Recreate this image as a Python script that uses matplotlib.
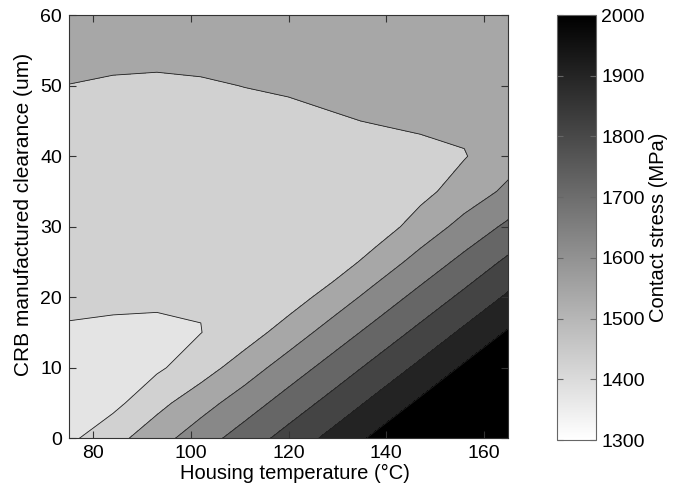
import matplotlib
matplotlib.use("Agg")
import matplotlib.pyplot as plt
import numpy as np
from matplotlib.colors import Normalize
from matplotlib.cm import ScalarMappable

plt.rcParams['font.family'] = ['Liberation Sans', 'DejaVu Sans']

# Grid of the parametric study
housing_temp = [75, 84, 93, 102, 111, 120, 129, 138, 147, 156, 165]      # degC
clearance = [0, 5, 10, 15, 20, 25, 30, 35, 40, 45, 50, 55, 60]           # um

# Contact stress (MPa), one row per clearance value
contact_stress = [
    [1380, 1465, 1560, 1655, 1746, 1838, 1929, 2021, 2112, 2204, 2295],
    [1370, 1373, 1470, 1560, 1651, 1743, 1834, 1926, 2017, 2109, 2200],
    [1372, 1375, 1385, 1455, 1550, 1648, 1739, 1831, 1922, 2014, 2105],
    [1385, 1388, 1392, 1398.5, 1452, 1545, 1644, 1735, 1827, 1919, 2010],
    [1430, 1412, 1406, 1404, 1430, 1452, 1542, 1640, 1732, 1823, 1915],
    [1450, 1440, 1432, 1425, 1420, 1430, 1445, 1540, 1637, 1728, 1820],
    [1465, 1455, 1448, 1440, 1435, 1432, 1435, 1450, 1542, 1633, 1720],
    [1475, 1468, 1462, 1455, 1450, 1446, 1445, 1448, 1472, 1545, 1620],
    [1480, 1476, 1472, 1468, 1462, 1458, 1456, 1455, 1480, 1495, 1560],
    [1487, 1483, 1477, 1468, 1460, 1468, 1491, 1505, 1512, 1518, 1545],
    [1498, 1485, 1480, 1487, 1502, 1515, 1525, 1535, 1545, 1550, 1560],
    [1540, 1535, 1532, 1538, 1545, 1552, 1560, 1565, 1570, 1575, 1580],
    [1565, 1562, 1560, 1562, 1566, 1570, 1575, 1580, 1585, 1590, 1595],
]

line_levels = [1400, 1500, 1600, 1700, 1800, 1900, 2000]
fill_levels = [1300] + line_levels + [2400]
band_grays = ['#e4e4e4', '#d1d1d1', '#a7a7a7', '#888888',
              '#666666', '#444444', '#232323', '#000000']
cbar_ticks = [1300, 1400, 1500, 1600, 1700, 1800, 1900, 2000]

T, C = np.meshgrid(housing_temp, clearance)
Z = np.array(contact_stress, dtype=float)

fig = plt.figure(figsize=(6.84, 4.93), dpi=100)
ax = fig.add_axes([0.101, 0.111, 0.642, 0.858])

ax.contourf(T, C, Z, levels=fill_levels, colors=band_grays)
ax.contour(T, C, Z, levels=line_levels, colors='#202020', linewidths=0.6)

ax.set_xlim(75, 165)
ax.set_ylim(0, 60)
ax.set_xticks([80, 100, 120, 140, 160])
ax.set_yticks([0, 10, 20, 30, 40, 50, 60])
ax.tick_params(direction='in', top=True, right=True, length=5, width=0.8,
               labelsize=14, pad=5, color='#333333')
for s in ax.spines.values():
    s.set_color('#333333')
    s.set_linewidth(0.8)
ax.set_xlabel('Housing temperature (°C)', fontsize=14.5)
ax.xaxis.set_label_coords(0.515, -0.06)
ax.set_ylabel('CRB manufactured clearance (um)', fontsize=15)
ax.yaxis.set_label_coords(-0.082, 0.528)

cax = fig.add_axes([0.814, 0.1075, 0.057, 0.862])
sm = ScalarMappable(norm=Normalize(1300, 2000), cmap='gray_r')
cb = fig.colorbar(sm, cax=cax, ticks=cbar_ticks)
cb.outline.set_edgecolor('#666666')
cb.outline.set_linewidth(0.8)
cax.tick_params(direction='in', left=True, right=True, labelleft=False,
                labelright=True, length=4, width=0.8, labelsize=14,
                color='#666666', pad=4)
cax.text(2.6, 0.50, 'Contact stress (MPa)', transform=cax.transAxes,
         rotation=90, ha='center', va='center', fontsize=14.5)

fig.savefig('out.png', dpi=100)
